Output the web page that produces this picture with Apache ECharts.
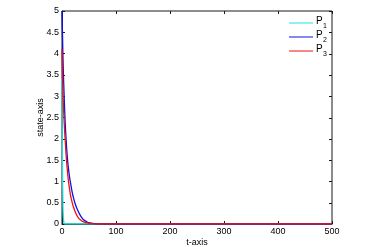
<!DOCTYPE html>
<html><head><meta charset="utf-8">
<script src="https://cdn.jsdelivr.net/npm/echarts@6/dist/echarts.min.js"></script>
<style>html,body{margin:0;padding:0;background:#fff}#c{width:367px;height:247px}</style>
</head><body><div id="c"></div>
<script>
const seriesNames = ['1', '2', '3'];
const p1 = [[0,3.4],[0.5,2.1],[1,1.2],[1.5,0.65],[2,0.3],[3,0.08],[4,0.02],[6,0],[100,0],[200,0],[300,0],[400,0],[500,0]];
const p2 = [[0,5],[1,4.4],[2,3.8],[4,3.0],[6,2.35],[8,1.9],[10,1.55],[12,1.3],[14,1.1],[16,0.95],[18,0.8],[20,0.68],[25,0.45],[30,0.3],[35,0.18],[40,0.1],[45,0.06],[50,0.03],[60,0.01],[70,0.003],[80,0],[100,0],[200,0],[300,0],[400,0],[500,0]];
const p3 = [[0,4.1],[1,3.5],[2,3.0],[4,2.4],[6,1.95],[8,1.55],[10,1.25],[12,1.0],[14,0.82],[16,0.66],[18,0.55],[20,0.45],[25,0.27],[30,0.15],[35,0.09],[40,0.05],[50,0.02],[60,0.005],[80,0],[100,0],[200,0],[300,0],[400,0],[500,0]];
const xTicks = [0,100,200,300,400,500];
const yTicks = [0,0.5,1,1.5,2,2.5,3,3.5,4,4.5,5];
const colors = ['#22e0e0','#1010e0','#ee1111'];
const frameColor = '#1a1a1a';
const font = 'Liberation Sans';
const chart = echarts.init(document.getElementById('c'));
function axisCommon(){
  return {
    axisLine:{show:true,onZero:false,lineStyle:{color:frameColor,width:1}},
    axisTick:{show:true,inside:true,length:3,lineStyle:{color:frameColor,width:1}},
    splitLine:{show:false}
  };
}
chart.setOption({
  animation:false,
  grid:{left:62,right:35,top:11,bottom:23,containLabel:false,outerBoundsMode:'none',
        show:true,borderColor:frameColor,borderWidth:1},
  xAxis:[
    Object.assign({type:'value',min:xTicks[0],max:xTicks[xTicks.length-1],interval:100,
      name:'t-axis',nameLocation:'middle',nameGap:14,nameMoveOverlap:false,
      nameTextStyle:{fontFamily:font,fontSize:9,color:'#000'},
      axisLabel:{fontFamily:font,fontSize:9,color:'#000',margin:3}},axisCommon())
  ],
  yAxis:[
    Object.assign({type:'value',min:yTicks[0],max:yTicks[yTicks.length-1],interval:0.5,
      name:'state-axis',nameLocation:'middle',nameGap:17,nameRotate:90,nameMoveOverlap:false,
      nameTextStyle:{fontFamily:font,fontSize:9,color:'#000'},
      axisLabel:{fontFamily:font,fontSize:9,color:'#000',margin:3}},axisCommon())
  ],
  series:[
    {name:'P1',type:'line',data:p1,showSymbol:false,smooth:true,lineStyle:{width:1.3,color:colors[0]},itemStyle:{color:colors[0]}},
    {name:'P2',type:'line',data:p2,showSymbol:false,smooth:true,lineStyle:{width:1.3,color:colors[1]},itemStyle:{color:colors[1]}},
    {name:'P3',type:'line',data:p3,showSymbol:false,smooth:true,lineStyle:{width:1.3,color:colors[2]},itemStyle:{color:colors[2]}}
  ]
});
// inward ticks on the top and right edges, placed through the chart's own scales
const g = [];
const px = function(v){ return chart.convertToPixel({xAxisIndex:0}, v); };
const py = function(v){ return chart.convertToPixel({yAxisIndex:0}, v); };
const R = Math.round(px(xTicks[xTicks.length-1]));
const T = Math.round(py(yTicks[yTicks.length-1]));
xTicks.forEach(function(v){
  const x = Math.round(px(v)) + 0.5;
  g.push({type:'line',shape:{x1:x,y1:T,x2:x,y2:T+3},style:{stroke:frameColor,lineWidth:1}});
});
yTicks.forEach(function(v){
  const y = Math.round(py(v)) + 0.5;
  g.push({type:'line',shape:{x1:R,y1:y,x2:R-3,y2:y},style:{stroke:frameColor,lineWidth:1}});
});
// legend: line sample + "P" + subscript
seriesNames.forEach(function(n, i){
  const y = 23 + i * 14;
  g.push({type:'line',shape:{x1:289,y1:y,x2:313,y2:y},style:{stroke:colors[i],lineWidth:1}});
  g.push({type:'text',x:316,y:y-2,style:{text:'P',fontFamily:font,fontSize:10,fill:'#000',verticalAlign:'middle',align:'left'}});
  g.push({type:'text',x:323,y:y+3,style:{text:n,fontFamily:font,fontSize:7,fill:'#000',verticalAlign:'middle',align:'left'}});
});
chart.setOption({graphic:g});
</script></body></html>
